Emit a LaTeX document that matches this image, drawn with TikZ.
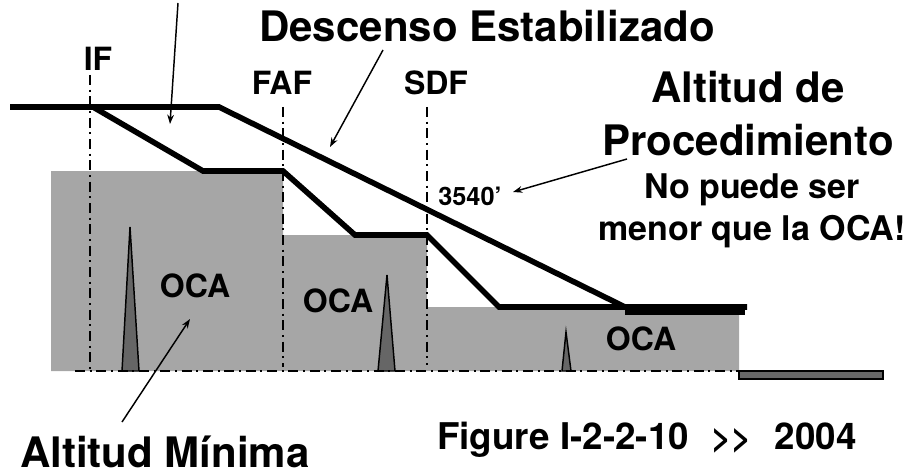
\documentclass[tikz,border=0pt]{standalone}
\usepackage{fontspec}
\setmainfont{TeX Gyre Heros}
\usetikzlibrary{arrows.meta}

\definecolor{ocagray}{HTML}{A6A6A6}
\definecolor{terraingray}{HTML}{666666}

\tikzset{
    path line/.style={line width=4.2pt, line join=miter},
    fix line/.style={line width=1.1pt, dash pattern=on 7.5pt off 3.5pt on 1.5pt off 3.5pt},
    callout/.style={line width=1.1pt, -{Stealth[length=7pt,width=5pt]}},
    terrain/.style={draw=black, line width=1.1pt, fill=terraingray},
    big label/.style={font=\bfseries\fontsize{31.5}{31.5}\selectfont, inner sep=0pt, anchor=base},
    mid label/.style={font=\bfseries\fontsize{25.5}{25.5}\selectfont, inner sep=0pt, anchor=base},
    fix label/.style={font=\bfseries\fontsize{24}{24}\selectfont, inner sep=0pt, anchor=base}
}

\begin{document}
\begin{tikzpicture}[x=0.75pt, y=-0.75pt]
    \useasboundingbox (0,0) rectangle (912,474);

    % Protection area under the approach
    \fill[ocagray] (51,171) -- (283,171) -- (283,235) -- (427,235) -- (427,307)
        -- (739,307) -- (739,371) -- (51,371) -- cycle;

    % Obstacles and runway
    \draw[terrain] (122,371) -- (130,227) -- (139,371) -- cycle;
    \draw[terrain] (378,371) -- (387,275) -- (395,371) -- cycle;
    \draw[terrain] (562,371) -- (566,332) -- (571,371) -- cycle;
    \draw[terrain] (739,371) rectangle (883,379);

    % Fix lines
    \coordinate (if top) at (90,75);
    \coordinate (if foot) at (90,371);
    \coordinate (faf top) at (283,107);
    \coordinate (faf foot) at (283,367);
    \coordinate (sdf top) at (427,107);
    \coordinate (sdf foot) at (427,365);
    \coordinate (ground left) at (75,371);
    \coordinate (ground right) at (739,371);
    \draw[fix line] (if top) -- (if foot);
    \draw[fix line] (faf top) -- (faf foot);
    \draw[fix line] (sdf top) -- (sdf foot);
    \draw[fix line] (ground left) -- (ground right);

    % Stepdown profile
    \coordinate (start) at (10,107);
    \coordinate (level end) at (219,107);
    \coordinate (merge) at (625,307);
    \draw[path line] (start) -- (level end) -- (merge);
    \draw[path line] (93,107) -- (203,171) -- (283,171) -- (355,235) -- (427,235)
        -- (499,307) -- (747,307);
    \draw[line width=4.5pt] (625,311.5) -- (745,311.5);

    % Labels
    \node[big label] (descenso) at (487,42) {Descenso Estabilizado};
    \node[big label] (altitud) at (748,103) {Altitud de};
    \node[big label] (procedimiento) at (748,155) {Procedimiento};
    \node[big label] (minima) at (165,467) {Altitud Mínima};
    \node[mid label] (puede) at (752,198) {No puede ser};
    \node[mid label] (menor) at (752,240) {menor que la OCA!};
    \node[fix label] (if) at (98,71) {IF};
    \node[fix label] (faf) at (282,95) {FAF};
    \node[fix label] (sdf) at (436,95) {SDF};
    \node[font=\bfseries\fontsize{19}{19}\selectfont, inner sep=0pt, anchor=base] (alt) at (470,205) {3540’};
    \node[fix label] (oca one) at (195,297) {OCA};
    \node[fix label] (oca two) at (338,312) {OCA};
    \node[fix label] (oca three) at (641,350) {OCA};
    \node[font=\bfseries\fontsize{27.6}{27.6}\selectfont, inner sep=0pt, anchor=base west] (figure) at (437,449)
        {Figure I-2-2-10\hspace{17pt}{\fontsize{26}{26}\selectfont{>}{>}}\hspace{17pt}2004};

    % Callouts
    \coordinate (top free) at (178,3);
    \coordinate (top tip) at (170,124);
    \coordinate (descent free) at (383,50);
    \coordinate (descent tip) at (330,147);
    \coordinate (alt free) at (627,159);
    \coordinate (alt tip) at (513,192);
    \coordinate (oca free) at (122,422);
    \coordinate (oca tip) at (190,319);
    \draw[callout] (top free) -- (top tip);
    \draw[callout] (descent free) -- (descent tip);
    \draw[callout] (alt free) -- (alt tip);
    \draw[callout] (oca free) -- (oca tip);
\end{tikzpicture}
\end{document}
